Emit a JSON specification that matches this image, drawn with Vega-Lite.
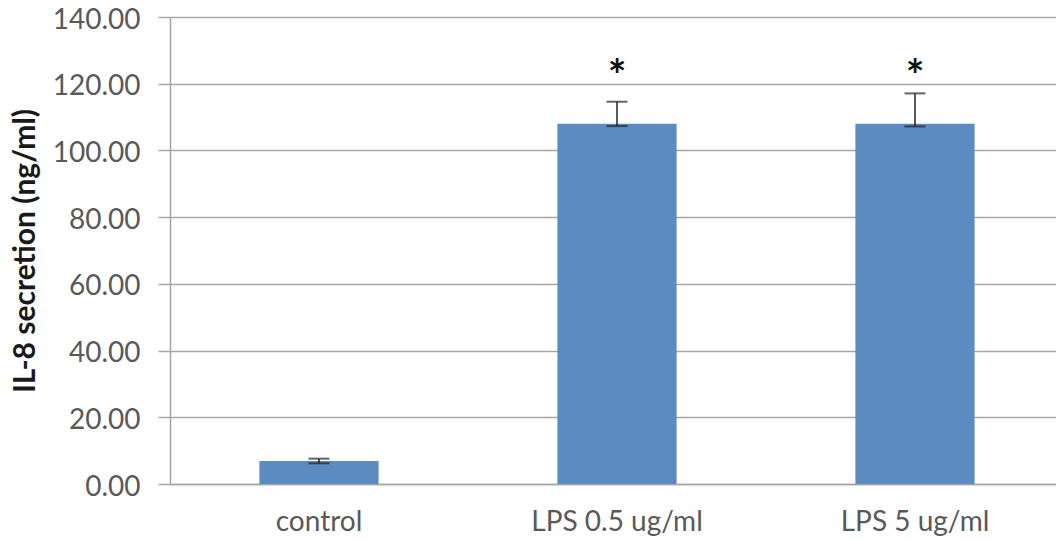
{
  "$schema": "https://vega.github.io/schema/vega-lite/v6.json",
  "autosize": "none",
  "width": 894,
  "height": 467,
  "padding": {"left": 170, "top": 17, "right": 0, "bottom": 57},
  "background": "white",
  "config": {
    "view": {"stroke": null},
    "font": "Lato"
  },
  "data": {
    "values": [
      {"group": "control", "value": 6.9, "lo": 6.2, "hi": 7.6, "star": ""},
      {"group": "LPS 0.5 ug/ml", "value": 108.0, "lo": 107.3, "hi": 114.6, "star": "*"},
      {"group": "LPS 5 ug/ml", "value": 108.0, "lo": 107.2, "hi": 117.1, "star": "*"}
    ]
  },
  "encoding": {
    "x": {
      "field": "group",
      "type": "nominal",
      "sort": null,
      "scale": {"paddingInner": 0.6, "paddingOuter": 0.3},
      "axis": {
        "title": null,
        "labelAngle": 0,
        "labelFontSize": 28,
        "labelColor": "#595959",
        "labelPadding": 24,
        "ticks": false,
        "domainColor": "#a6a6a6",
        "domainWidth": 1.5
      }
    }
  },
  "layer": [
    {
      "mark": {"type": "bar", "color": "#5b8bc1"},
      "encoding": {
        "y": {
          "field": "value",
          "type": "quantitative",
          "scale": {"domain": [0, 140]},
          "axis": {
            "title": "IL-8 secretion (ng/ml)",
            "titleFontSize": 30,
            "titleFontWeight": "bold",
            "titleColor": "#1a1a1a",
            "titlePadding": 12,
            "values": [0, 20, 40, 60, 80, 100, 120, 140],
            "format": ".2f",
            "labelFontSize": 28,
            "labelColor": "#595959",
            "labelPadding": 18,
            "labelOffset": 3,
            "tickSize": 12,
            "tickColor": "#a6a6a6",
            "tickWidth": 1.5,
            "gridColor": "#a6a6a6",
            "gridWidth": 1.5,
            "domainColor": "#a6a6a6",
            "domainWidth": 1.5
          }
        }
      }
    },
    {
      "mark": {"type": "rule", "color": "#222222", "strokeWidth": 1.5},
      "encoding": {
        "y": {"field": "lo", "type": "quantitative"},
        "y2": {"field": "hi"}
      }
    },
    {
      "mark": {"type": "tick", "color": "#222222", "size": 21, "thickness": 2, "orient": "horizontal"},
      "encoding": {"y": {"field": "lo", "type": "quantitative"}}
    },
    {
      "mark": {"type": "tick", "color": "#222222", "size": 21, "thickness": 2, "orient": "horizontal"},
      "encoding": {"y": {"field": "hi", "type": "quantitative"}}
    },
    {
      "mark": {"type": "text", "fontSize": 44, "fontWeight": "bold", "color": "#111111", "baseline": "middle", "dy": 9},
      "encoding": {
        "y": {"datum": 124.4, "type": "quantitative"},
        "text": {"field": "star"}
      }
    }
  ]
}
